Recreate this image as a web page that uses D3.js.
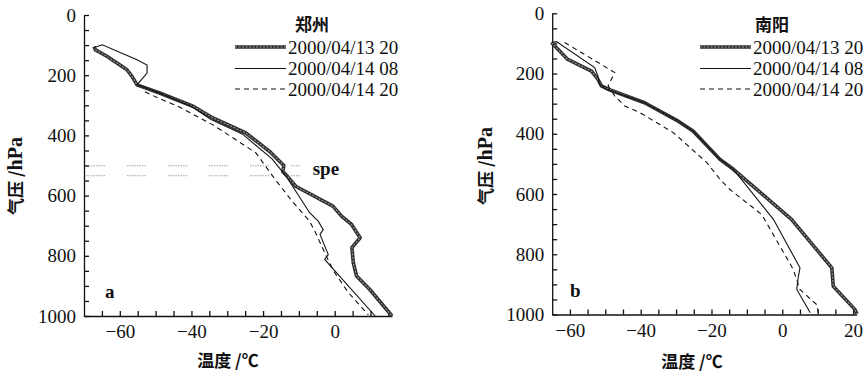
<!DOCTYPE html>
<html>
<head>
<meta charset="utf-8">
<script src="https://cdn.jsdelivr.net/npm/d3@7"></script>
<style>
  body { margin: 0; background: #fff; }
  svg { display: block; }
  .tick text { font-family: "Liberation Serif", "Times New Roman", "DejaVu Serif", serif; font-size: 19px; fill: #111; }
  .axis path, .axis line { stroke: #111; stroke-width: 1.3; }
  .cjk { font-family: "Noto Sans CJK SC", sans-serif; font-weight: 700; fill: #111; }
  .serif { font-family: "Liberation Serif", "Times New Roman", "DejaVu Serif", serif; fill: #111; }
</style>
</head>
<body>
<div id="chart"></div>
<script>
// temperature (°C), pressure (hPa) pairs

// 郑州
const zz1320 = [[-67.2,105],[-66.8,116],[-63.5,138],[-58,182],[-56.6,204],[-55.2,232],[-48.7,260],
  [-39.4,304],[-34,342],[-24.8,392],[-18,455],[-14.2,500],[-14.5,520],[-13.2,536],[-10.9,569],
  [-0.5,635],[1.9,668],[4.7,696],[7.1,740],[4.8,773],[5.2,823],[6.1,867],[9.8,912],[16,1000]];
const zz1408 = [[-67.2,108],[-64.9,99],[-55.2,149],[-52.4,166],[-52.4,193],[-55.2,232],[-48.7,260],
  [-40,304],[-34.5,347],[-25.8,395],[-17.5,478],[-13.6,535],[-7,657],[-4.6,685],[-3.2,713],
  [-4.1,729],[-1.8,796],[-2.8,812],[11.3,1000]];
const zz1420 = [[-53,255],[-50,272],[-43.5,305],[-34,365],[-22,458],[-17.2,537],[-11.8,620],
  [-7,685],[-5.4,722],[-2,810],[0,856],[3.8,922],[9.4,996]];
const zzSpe = [501, 534];          // spe levels (hPa)
const zzSpeRange = [-70, -9.5];    // extent of the spe lines (°C)

// 南阳
const ny1320 = [[-65.2,97],[-60.6,153],[-53.9,192],[-52.1,219],[-51.1,241],[-49.2,252],[-38.9,297],
  [-29.4,358],[-25.2,391],[-17.6,485],[-13.8,518],[2.6,684],[14,845],[14.4,906],[20.5,983],[21.1,998]];
const ny1408 = [[-65.2,97],[-63.8,94],[-53,180],[-52.1,208],[-51.6,236],[-49.7,252],[-38.9,297],
  [-29.4,358],[-25.2,391],[-17.6,485],[-13.8,518],[-2.5,684],[5,845],[4.5,878],[4.1,917],[7.9,994]];
const ny1420 = [[-61.5,97],[-47.3,197],[-49.2,241],[-47.3,275],[-44.5,308],[-40.2,330],[-30.8,396],
  [-21.3,496],[-17.6,551],[-14.8,585],[-5.8,668],[3.1,850],[5,917],[9.7,967],[10.2,994]];

const seriesNames = ['2000/04/13 20', '2000/04/14 08', '2000/04/14 20'];
const pressureTicks = d3.range(0, 1001, 50);
const pressureLabels = [0, 200, 400, 600, 800, 1000];
const zzTempTicks = d3.range(-65, 16, 5);
const nyTempTicks = d3.range(-60, 21, 5);
const tempLabels = [-60, -40, -20, 0, 20];

const width = 868, height = 375;
const svg = d3.select('#chart').append('svg')
  .attr('width', width).attr('height', height);

const panels = [
  { name: '郑州', tag: 'a', series: [zz1320, zz1408, zz1420], tempDomain: [-70, 16], tempRange: [84, 392],
    presRange: [15, 316], tempTicks: zzTempTicks, spe: zzSpe, legendX: 235, titleX: 312,
    yTitle: [16, 176], xTitle: [228, 361], tagPos: [105, 298] },
  { name: '南阳', tag: 'b', series: [ny1320, ny1408, ny1420], tempDomain: [-65, 21], tempRange: [552.2, 856.6],
    presRange: [13.3, 314.5], tempTicks: nyTempTicks, spe: null, legendX: 700, titleX: 772,
    yTitle: [486, 166], xTitle: [692, 362], tagPos: [570, 297] }
];

function drawSeries(g, path, i) {
  if (i === 0) {
    g.append('path').attr('d', path).attr('fill', 'none')
      .attr('stroke', '#2e2e2e').attr('stroke-width', 3.6).attr('stroke-linejoin', 'round');
    g.append('path').attr('d', path).attr('fill', 'none')
      .attr('stroke', '#9a9a9a').attr('stroke-width', 1.1).attr('stroke-dasharray', '2,1.5');
  } else {
    g.append('path').attr('d', path).attr('fill', 'none')
      .attr('stroke', '#111').attr('stroke-width', 1.1)
      .attr('stroke-dasharray', i === 2 ? '5,4' : null);
  }
}

panels.forEach(p => {
  const x = d3.scaleLinear().domain(p.tempDomain).range(p.tempRange);
  const y = d3.scaleLinear().domain([0, 1000]).range(p.presRange);
  const g = svg.append('g');

  // spe levels: faint dotted runs
  if (p.spe) {
    p.spe.forEach(lev => {
      g.append('line')
        .attr('x1', x(zzSpeRange[0]) + 2).attr('x2', x(zzSpeRange[1]))
        .attr('y1', y(lev)).attr('y2', y(lev))
        .attr('stroke', '#9a9a9a').attr('stroke-width', 0.9)
        .attr('stroke-dasharray', '1.5,1,1.5,1,1.5,1,1.5,1,1.5,1,1.5,1,1.5,1,1.5,22');
    });
    g.append('text').attr('class', 'serif')
      .attr('x', x(zzSpeRange[1]) + 12).attr('y', y(p.spe[0]) + 9)
      .attr('font-size', 19).attr('font-weight', 700).text('spe');
  }

  g.append('g').attr('class', 'axis')
    .attr('transform', `translate(${p.tempRange[0]},0)`)
    .call(d3.axisLeft(y).tickValues(pressureTicks).tickSize(-5).tickSizeOuter(0).tickPadding(8)
      .tickFormat(d => pressureLabels.includes(d) ? d : ''));

  g.append('g').attr('class', 'axis')
    .attr('transform', `translate(0,${p.presRange[1]})`)
    .call(d3.axisBottom(x).tickValues(p.tempTicks).tickSize(-5).tickSizeOuter(0).tickPadding(9)
      .tickFormat(d => tempLabels.includes(d) ? d3.format('d')(d) : ''));

  const line = d3.line().x(d => x(d[0])).y(d => y(d[1]));
  p.series.forEach((s, i) => drawSeries(g, line(s), i));

  // legend
  g.append('text').attr('class', 'cjk').attr('x', p.titleX).attr('y', 25).attr('dy', '0.35em')
    .attr('text-anchor', 'middle').attr('font-size', 17).text(p.name);
  const legendY = [47, 68.5, 89];
  seriesNames.forEach((nm, i) => {
    drawSeries(g, d3.line()([[p.legendX, legendY[i]], [p.legendX + 51, legendY[i]]]), i);
    g.append('text').attr('class', 'serif').attr('x', p.legendX + 53).attr('y', legendY[i])
      .attr('dy', '0.35em').attr('font-size', 19).text(nm);
  });

  // tag
  g.append('text').attr('class', 'serif').attr('x', p.tagPos[0]).attr('y', p.tagPos[1])
    .attr('font-size', 19).attr('font-weight', 700).text(p.tag);

  // axis titles
  g.append('text').attr('class', 'cjk').attr('x', p.xTitle[0]).attr('y', p.xTitle[1])
    .attr('dy', '0.35em').attr('text-anchor', 'middle').attr('font-size', 17)
    .text('温度 /℃');

  const yt = g.append('text').attr('class', 'cjk')
    .attr('transform', `translate(${p.yTitle[0]},${p.yTitle[1]}) rotate(-90)`)
    .attr('dy', '0.35em').attr('text-anchor', 'middle').attr('font-size', 17);
  yt.append('tspan').text('气压 /');
  yt.append('tspan').attr('font-family', '"Liberation Serif", serif').attr('font-size', 20).text('hPa');
});
</script>
</body>
</html>
